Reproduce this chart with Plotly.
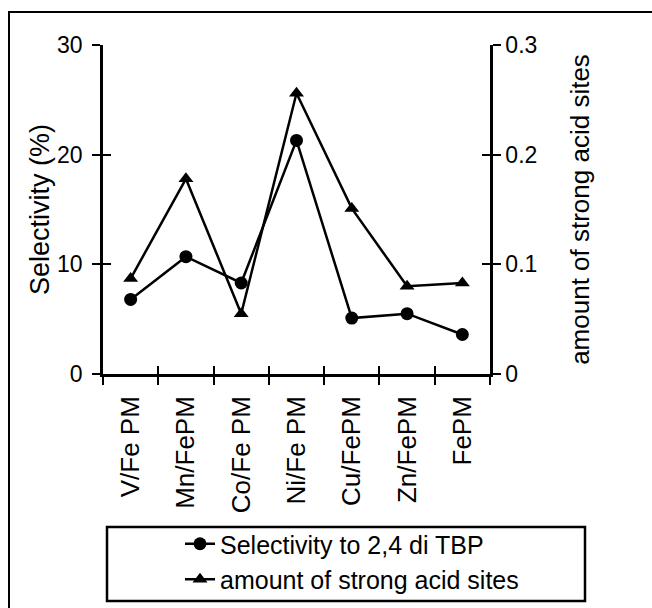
import plotly.graph_objects as go

# Catalyst samples (x categories)
catalysts = ["V/Fe PM", "Mn/FePM", "Co/Fe PM", "Ni/Fe PM", "Cu/FePM", "Zn/FePM", "FePM"]

# Selectivity to 2,4-di-tert-butylphenol (%), left axis
selectivity = [6.8, 10.7, 8.3, 21.3, 5.1, 5.5, 3.6]

# Amount of strong acid sites, right axis
strong_acid = [0.087, 0.178, 0.055, 0.256, 0.151, 0.080, 0.083]

left_ticks = [0, 10, 20, 30]
right_ticks = [0, 0.1, 0.2, 0.3]

FONT = "Liberation Sans, Arial, sans-serif"
BLACK = "black"

# plot area in pixels
W, H = 652, 608
L, R, T, B = 103, 162, 45, 234
pw, ph = W - L - R, H - T - B

def px_x(x):
    return (x - L) / pw

def px_y(y):
    return (H - B - y) / ph

fig = go.Figure()

fig.add_trace(go.Scatter(
    x=catalysts, y=selectivity, name="Selectivity to 2,4 di TBP",
    mode="lines+markers", xaxis="x", yaxis="y",
    line=dict(color=BLACK, width=2.5),
    marker=dict(symbol="circle", size=13, color=BLACK),
))
fig.add_trace(go.Scatter(
    x=catalysts, y=strong_acid, name="amount of strong acid sites",
    mode="lines+markers", xaxis="x", yaxis="y2",
    line=dict(color=BLACK, width=2.5),
    marker=dict(symbol="triangle-up", size=13, color=BLACK),
))

# empty traces so the inward-tick overlay axes get drawn (crossing tick marks)
for xa, ya in (("x2", "y3"), ("x2", "y4")):
    fig.add_trace(go.Scatter(x=[None], y=[None], xaxis=xa, yaxis=ya, mode="markers",
                             showlegend=False, hoverinfo="skip"))

n = len(catalysts)
boundaries = [i - 0.5 for i in range(n + 1)]

tick_style = dict(showgrid=False, zeroline=False, tickcolor=BLACK, tickwidth=2, ticklen=8)
axis_common = dict(linecolor=BLACK, linewidth=2.5, **tick_style)

fig.update_layout(
    width=W, height=H,
    margin=dict(l=L, r=R, t=T, b=B, autoexpand=False),
    paper_bgcolor="white", plot_bgcolor="white",
    font=dict(family=FONT, color=BLACK),
    showlegend=True,
    xaxis=dict(
        type="category", categoryarray=catalysts, range=[-0.5, n - 0.5],
        tickson="boundaries", ticks="outside", showline=True,
        tickangle=-90, tickfont=dict(size=26, family=FONT), ticklabelstandoff=9,
        anchor="y", **axis_common,
    ),
    xaxis2=dict(
        type="linear", overlaying="x", anchor="y", range=[-0.5, n - 0.5],
        tickmode="array", tickvals=boundaries, ticks="inside",
        showticklabels=False, showline=False, side="bottom", **tick_style,
    ),
    yaxis=dict(
        range=[0, 30], tickmode="array", tickvals=left_ticks, ticks="outside",
        showline=True, tickfont=dict(size=23, family=FONT), anchor="x", ticklabelstandoff=5,
        title=dict(text="Selectivity (%)", font=dict(size=27, family=FONT), standoff=0),
        **axis_common,
    ),
    yaxis3=dict(
        range=[0, 30], tickmode="array", tickvals=left_ticks, ticks="inside",
        showticklabels=False, showline=False, overlaying="y", side="left", anchor="x2",
        **tick_style,
    ),
    yaxis2=dict(
        range=[0, 0.3], tickmode="array", tickvals=right_ticks, ticktext=["0", "0.1", "0.2", "0.3"],
        ticks="outside", showline=True, overlaying="y", side="right", anchor="x",
        tickfont=dict(size=23, family=FONT),
        title=dict(text="amount of strong acid sites", font=dict(size=26, family=FONT), standoff=35),
        **axis_common,
    ),
    yaxis4=dict(
        range=[0, 0.3], tickmode="array", tickvals=right_ticks, ticks="inside",
        showticklabels=False, showline=False, overlaying="y", side="right", anchor="x2",
        **tick_style,
    ),
    legend=dict(
        x=px_x(180), y=px_y(521), xanchor="left", yanchor="top",
        bgcolor="rgba(0,0,0,0)", borderwidth=0,
        font=dict(size=25, family=FONT, color=BLACK),
        tracegroupgap=0,
    ),
    shapes=[
        # outer frame
        dict(type="rect", xref="paper", yref="paper",
             x0=px_x(9), x1=px_x(W + 20), y0=px_y(H + 20), y1=px_y(12),
             line=dict(color=BLACK, width=2), fillcolor="rgba(0,0,0,0)", layer="below"),
        # legend frame
        dict(type="rect", xref="paper", yref="paper",
             x0=px_x(107), x1=px_x(585), y0=px_y(601), y1=px_y(527),
             line=dict(color=BLACK, width=2.5), fillcolor="rgba(0,0,0,0)"),
    ],
)

fig.write_html("out.html")
